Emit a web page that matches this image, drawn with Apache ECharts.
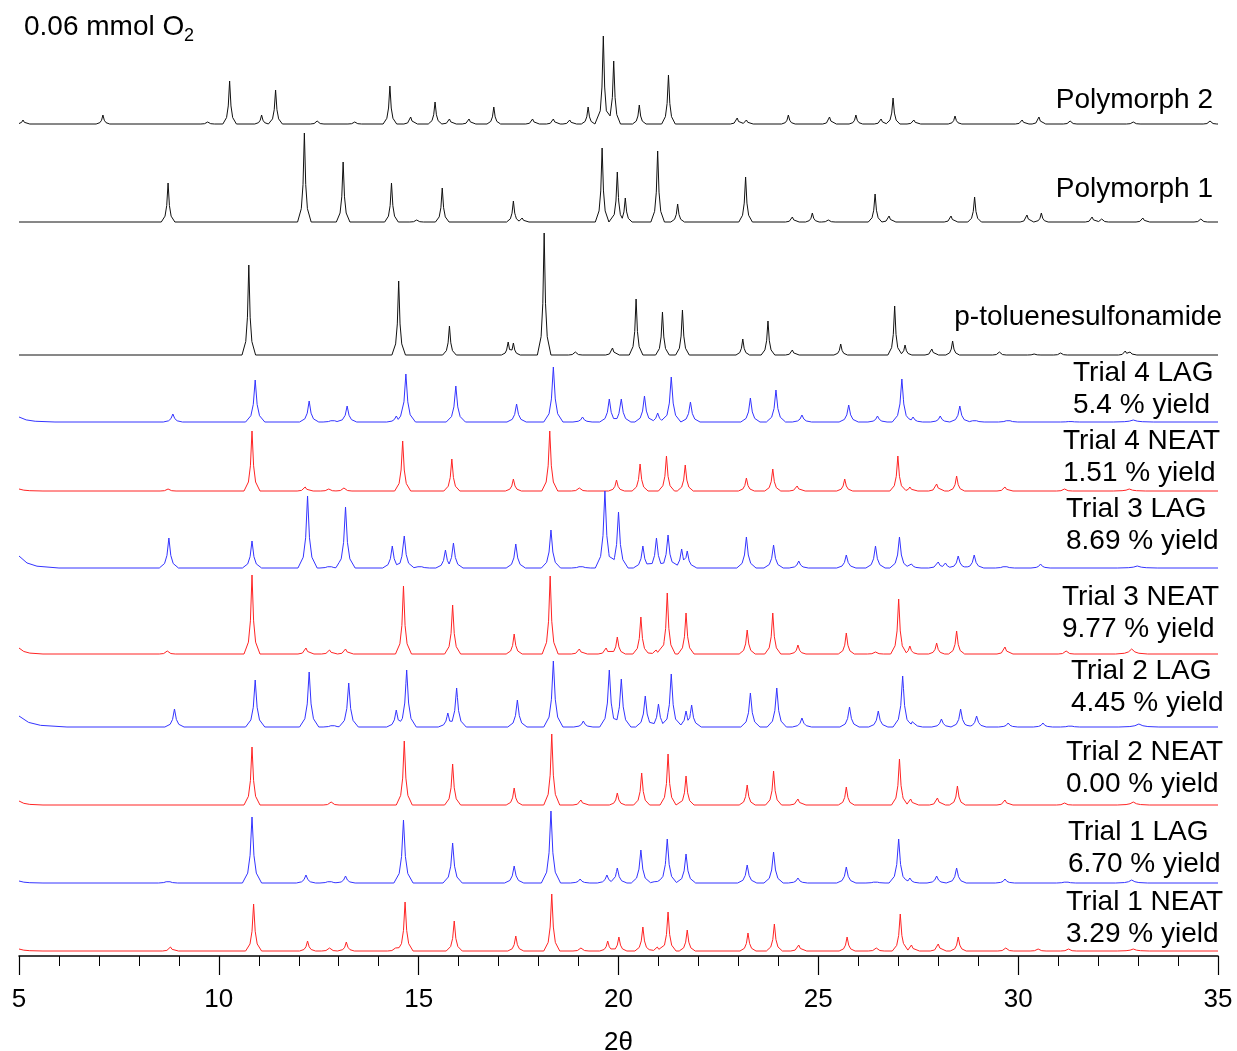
<!DOCTYPE html>
<html>
<head>
<meta charset="utf-8">
<script src="https://cdn.jsdelivr.net/npm/echarts@6/dist/echarts.min.js"></script>
<style>
  html, body { margin: 0; padding: 0; background: #fff; }
  #chart { width: 1237px; height: 1051px; }
</style>
</head>
<body>
<div id="chart"></div>
<script>
// peaks: [2theta, height, optional half-width]
const poly2Peaks = [
  [5.1, 4], [7.1, 9], [9.72, 2], [10.27, 43], [11.07, 9], [11.42, 34], [12.46, 3], [13.4, 2],
  [14.28, 38], [14.8, 7], [15.41, 22], [15.77, 5], [16.26, 5], [16.88, 17], [17.85, 5],
  [18.37, 5], [18.78, 4], [19.24, 17], [19.62, 88], [19.88, 63], [20.52, 19], [21.25, 49],
  [22.97, 6], [23.2, 4], [24.25, 9], [25.28, 7], [25.94, 9], [26.57, 5], [26.87, 26],
  [27.39, 4], [28.42, 8], [30.1, 4], [30.52, 7], [31.3, 3], [32.88, 2], [34.8, 3]
]
const poly1Peaks = [
  [8.73, 39], [12.14, 89], [13.11, 60], [14.32, 39], [14.95, 2], [15.59, 34], [17.37, 21],
  [17.59, 4], [19.59, 74], [19.97, 50], [20.17, 24], [20.98, 71], [21.48, 18], [23.18, 45],
  [24.35, 5], [24.85, 9], [25.25, 2], [26.42, 28], [26.77, 6], [28.32, 6], [28.91, 25],
  [30.22, 7], [30.58, 9], [31.85, 5], [32.09, 3], [33.12, 4], [34.57, 3]
]
const ptsaPeaks = [
  [10.75, 90], [14.5, 74], [15.77, 29], [17.24, 13], [17.37, 12], [18.14, 122], [18.92, 3],
  [19.85, 7], [20.44, 56], [21.1, 43], [21.6, 45], [23.11, 16], [23.74, 34], [24.35, 5],
  [25.56, 11], [26.91, 49], [27.17, 10], [27.84, 6], [28.36, 14], [29.53, 3], [30.4, 1],
  [31.06, 2], [32.68, 4], [32.8, 3]
]
const t4LagPeaks = [
  [5.0, 5, 0.9], [8.85, 8], [10.91, 42], [12.26, 21], [12.85, 3], [13.21, 16], [14.44, 6],
  [14.68, 48], [15.93, 36], [17.45, 18], [18.37, 55], [19.1, 5], [19.77, 23], [20.07, 23],
  [20.65, 26], [20.98, 9], [21.32, 45], [21.8, 20], [23.3, 24], [23.94, 32], [24.59, 7],
  [25.76, 17], [26.48, 6], [27.09, 43], [27.37, 5], [28.05, 6], [28.54, 16], [28.91, 3],
  [29.75, 3], [31.3, 1], [32.88, 2, 0.5]
]
const t4NeatPeaks = [
  [5.0, 2, 0.6], [8.73, 2], [10.83, 60], [12.16, 4], [12.75, 2], [13.13, 3], [14.6, 50],
  [15.83, 32], [17.37, 12], [18.28, 60], [19.02, 3], [19.95, 11], [20.54, 27], [21.2, 35],
  [21.67, 26], [23.2, 13], [23.86, 22], [24.47, 5], [25.66, 12], [26.99, 35], [27.29, 4],
  [27.96, 7], [28.46, 15], [29.67, 4], [31.16, 2], [32.78, 2, 0.4]
]
const t3LagPeaks = [
  [5.0, 12, 1.0], [8.75, 30], [10.83, 27], [12.22, 72], [12.77, 3], [13.17, 61], [14.34, 22],
  [14.64, 32], [15.03, 3], [15.67, 18], [15.87, 25], [17.43, 24], [18.31, 38], [19.06, 3],
  [19.66, 77], [20.0, 56], [20.61, 22], [20.95, 30], [21.24, 33], [21.58, 19], [21.72, 17],
  [23.2, 31], [23.88, 23], [24.51, 7], [25.7, 13], [26.43, 22], [27.03, 31], [27.33, 4],
  [28.0, 6], [28.18, 5], [28.5, 12], [28.9, 13], [29.67, 3], [30.56, 4], [32.98, 2, 0.5]
]
const t3NeatPeaks = [
  [5.0, 6, 0.6], [8.71, 3], [10.83, 79], [12.18, 6], [12.77, 4], [13.17, 5], [14.62, 68],
  [15.85, 49], [17.39, 20], [18.29, 78], [19.02, 5], [19.69, 6], [19.97, 17], [20.56, 37],
  [20.94, 4], [21.22, 61], [21.69, 41], [23.22, 24], [23.86, 41], [24.49, 9], [25.7, 21],
  [26.43, 2], [27.01, 55], [27.29, 8], [27.96, 11], [28.46, 23], [29.67, 7], [31.2, 3],
  [32.84, 5, 0.4]
]
const t2LagPeaks = [
  [5.0, 11, 1.2], [8.89, 18], [10.91, 47], [12.26, 55], [12.85, 3], [13.25, 44], [14.44, 17],
  [14.7, 57], [15.73, 14], [15.95, 39], [17.47, 27], [18.37, 66], [19.12, 6], [19.77, 57],
  [20.07, 48], [20.67, 31], [21.0, 23], [21.32, 53], [21.69, 16], [21.83, 22], [23.3, 34],
  [23.96, 39], [24.59, 9], [25.78, 20], [26.5, 16], [27.11, 51], [27.37, 7], [28.08, 8],
  [28.56, 18], [28.96, 11], [29.75, 4], [30.62, 4], [31.3, 2], [33.02, 3, 0.5]
]
const t2NeatPeaks = [
  [5.0, 4, 0.6], [10.83, 58], [12.81, 3], [14.64, 64], [15.85, 41], [17.39, 17], [18.33, 71],
  [19.06, 5], [19.97, 12], [20.58, 32], [21.24, 51], [21.69, 29], [23.22, 20], [23.88, 34],
  [24.49, 6], [25.7, 18], [27.03, 46], [27.31, 6], [27.98, 7], [28.48, 19], [29.67, 5],
  [31.16, 2], [32.88, 3, 0.4]
]
const t1LagPeaks = [
  [5.0, 2, 0.6], [8.73, 3], [10.83, 66], [12.18, 8], [12.77, 3], [13.17, 7], [14.62, 63],
  [15.85, 40], [17.39, 17], [18.31, 72], [19.04, 4], [19.71, 8], [19.97, 15], [20.56, 33],
  [20.94, 3], [21.22, 44], [21.69, 29], [23.22, 18], [23.88, 31], [24.49, 5], [25.7, 16],
  [26.43, 2], [27.01, 44], [27.29, 5], [27.96, 7], [28.46, 15], [29.67, 4], [31.2, 2],
  [32.84, 3, 0.4]
]
const t1NeatPeaks = [
  [5.0, 2, 0.6], [8.79, 4], [10.87, 47], [12.22, 10], [12.77, 3], [13.19, 9], [14.42, 3],
  [14.66, 49], [15.89, 30], [17.43, 15], [18.33, 57], [19.06, 3], [19.73, 10], [20.01, 14],
  [20.61, 24], [20.97, 4], [21.24, 39], [21.72, 21], [23.24, 18], [23.9, 27], [24.51, 6],
  [25.72, 14], [26.45, 3], [27.05, 37], [27.33, 6], [28.0, 7], [28.5, 14], [29.69, 3],
  [30.5, 2], [31.26, 2], [32.88, 2, 0.4]
]

const traceNames = ['Polymorph 2', 'Polymorph 1', 'p-toluenesulfonamide',
  'Trial 4 LAG', 'Trial 4 NEAT', 'Trial 3 LAG', 'Trial 3 NEAT',
  'Trial 2 LAG', 'Trial 2 NEAT', 'Trial 1 LAG', 'Trial 1 NEAT']
const yields = [null, null, null, '5.4', '1.51', '8.69', '9.77', '4.45', '0.00', '6.70', '3.29']
const tracePeaks = [poly2Peaks, poly1Peaks, ptsaPeaks, t4LagPeaks, t4NeatPeaks, t3LagPeaks,
  t3NeatPeaks, t2LagPeaks, t2NeatPeaks, t1LagPeaks, t1NeatPeaks]
const xTicks = [5, 10, 15, 20, 25, 30, 35]

// layout (pixels)
const baselines = [124, 222, 355, 422, 491, 568, 654, 727, 805, 883, 951]
const labelPos = [
  { right: 1213, y: 100 }, { right: 1213, y: 189 }, { right: 1222, y: 317 },
  { left: 1073, y: 373 }, { left: 1063, y: 441 }, { left: 1066, y: 509 },
  { left: 1062, y: 597 }, { left: 1071, y: 671 }, { left: 1066, y: 752 },
  { left: 1068, y: 832 }, { left: 1066, y: 902 }
]
const colors = { black: '#111', red: '#ff2424', blue: '#3434ff' }
const FONT = '"Liberation Sans", Arial, sans-serif'
// peak glyph outline: [fraction of half-width, fraction of height]
const glyph = [[0, 1], [0.2, 0.42], [0.45, 0.15], [1, 0]]

function traceColor (name) {
  if (name.indexOf('LAG') >= 0) return colors.blue
  if (name.indexOf('NEAT') >= 0) return colors.red
  return colors.black
}

function glyphAt (d) {
  for (let k = 1; k < glyph.length; k++) {
    if (d <= glyph[k][0]) {
      let a = glyph[k - 1]
      let b = glyph[k]
      return a[1] + (b[1] - a[1]) * (d - a[0]) / (b[0] - a[0])
    }
  }
  return 0
}

// draw each reflection as a narrow peak glyph
function profile (peaks, hw) {
  let xs = [xTicks[0], xTicks[xTicks.length - 1]]
  for (let p of peaks) {
    let w = p[2] || hw
    for (let g of glyph) {
      xs.push(p[0] - g[0] * w)
      if (g[0] > 0) xs.push(p[0] + g[0] * w)
    }
  }
  xs = xs.filter(x => x >= 5 && x <= 35).sort((a, b) => a - b)
  return xs.map(x => {
    let y = 0
    for (let p of peaks) {
      let w = p[2] || hw
      let v = p[1] * glyphAt(Math.abs(x - p[0]) / w)
      if (v > y) y = v
    }
    return [x, y]
  })
}

let grids = []
let xAxes = []
let yAxes = []
let series = []
let graphics = []

traceNames.forEach((name, i) => {
  grids.push({ left: 19, right: 19, top: baselines[i] - 100, height: 100, outerBoundsMode: 'none' })
  xAxes.push({ gridIndex: i, type: 'value', min: 5, max: 35, show: false })
  yAxes.push({ gridIndex: i, type: 'value', min: 0, max: 100, show: false })
  let col = traceColor(name)
  let hw = col === colors.blue ? 0.24 : (col === colors.red ? 0.2 : 0.17)
  series.push({
    name: name,
    type: 'line',
    xAxisIndex: i,
    yAxisIndex: i,
    data: profile(tracePeaks[i], hw),
    showSymbol: false,
    clip: false,
    silent: true,
    lineStyle: { color: col, width: 1 }
  })
  let lp = labelPos[i]
  let lines = yields[i] === null ? [name] : [name, yields[i] + ' % yield']
  lines.forEach((t, k) => {
    graphics.push({
      type: 'text',
      x: lp.left !== undefined ? lp.left : lp.right,
      y: lp.y + k * 32,
      style: {
        text: t,
        fontSize: 28,
        fontFamily: FONT,
        fill: '#000',
        align: lp.left !== undefined ? 'left' : 'right',
        verticalAlign: 'middle'
      }
    })
  })
})

// bottom axis
let ai = traceNames.length
grids.push({ left: 19, right: 19, top: 856, height: 100, outerBoundsMode: 'none' })
xAxes.push({
  gridIndex: ai, type: 'value', min: 5, max: 35, interval: 5,
  name: '2θ', nameLocation: 'middle', nameGap: 74,
  nameTextStyle: { fontSize: 26, fontFamily: FONT, color: '#000' },
  axisLine: { lineStyle: { color: '#000', width: 1.5 } },
  axisTick: { length: 19, lineStyle: { color: '#000', width: 1.2 } },
  minorTick: { show: true, splitNumber: 5, length: 10, lineStyle: { color: '#000', width: 1 } },
  splitLine: { show: false },
  axisLabel: { fontSize: 26, fontFamily: FONT, color: '#000', margin: 31 }
})
yAxes.push({ gridIndex: ai, type: 'value', min: 0, max: 100, show: false })

graphics.push({
  type: 'text', x: 24, y: 27,
  style: { text: '0.06 mmol O', fontSize: 28, fontFamily: FONT, fill: '#000', verticalAlign: 'middle' }
})
graphics.push({
  type: 'text', x: 184, y: 36,
  style: { text: '2', fontSize: 18, fontFamily: FONT, fill: '#000', verticalAlign: 'middle' }
})

let myChart = echarts.init(document.getElementById('chart'))
myChart.setOption({
  animation: false,
  backgroundColor: '#fff',
  grid: grids,
  xAxis: xAxes,
  yAxis: yAxes,
  series: series,
  graphic: graphics
})
</script>
</body>
</html>
